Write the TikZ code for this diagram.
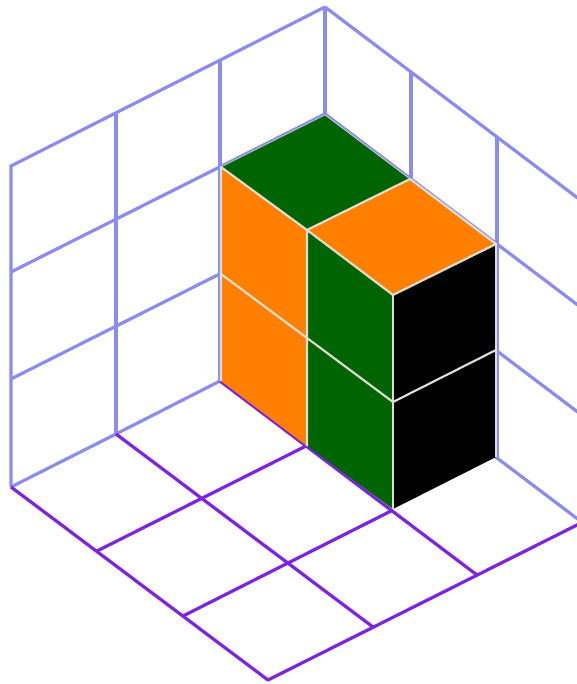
\documentclass[tikz,border=0pt]{standalone}
\definecolor{wallc}{RGB}{140,140,240}
\definecolor{floorc}{RGB}{125,35,225}
\definecolor{edgec}{RGB}{222,222,212}
\definecolor{dgreen}{RGB}{0,100,0}
\definecolor{orangec}{RGB}{255,128,0}
\tikzset{
  wall/.style={draw=wallc,line width=2.4pt},
  floorl/.style={draw=floorc,line width=2.4pt},
  face/.style={draw=edgec,line width=1.6pt,line join=round},
}
\begin{document}
\begin{tikzpicture}[x=0.75pt,y=-0.75pt]
\useasboundingbox (0,0) rectangle (577,684);
\clip (0,0) rectangle (577,684);
\fill[white] (0,0) rectangle (577,684);
% left wall
\draw[wall] (11,487) -- (11,166) -- (325,7);
\draw[wall] (116,434) -- (116,113);
\draw[wall] (220,381) -- (220,60);
\draw[wall] (325,328) -- (325,7);
\draw[wall] (11,272) -- (325,114);
\draw[wall] (11,379) -- (325,221);
% right wall
\draw[wall] (325,7) -- (583,202);
\draw[wall] (411,72) -- (411,393);
\draw[wall] (497,137) -- (497,458);
\draw[wall] (325,114) -- (583,309);
\draw[wall] (325,221) -- (583,416);
\draw[wall] (325,328) -- (583,523);
\draw[wall] (11,487) -- (116,434) -- (220,381);
% floor
\draw[floorl,line join=round] (11,487) -- (268,680) -- (583,522);
\draw[floorl] (97,551) -- (306,446);
\draw[floorl] (183,616) -- (393,510);
\draw[floorl] (116,434) -- (373,627);
\draw[floorl] (220,381) -- (477,575);
% blocks
\fill[orangec] (221,167) -- (307,230) -- (307,446) -- (221,381) -- cycle;
\fill[dgreen] (221,167) -- (325,115) -- (410,179) -- (307,230) -- cycle;
\fill[orangec] (307,230) -- (410,179) -- (496,244) -- (393,295) -- cycle;
\fill[dgreen] (307,230) -- (393,295) -- (393,509) -- (307,446) -- cycle;
\fill[black] (393,295) -- (496,244) -- (496,457) -- (393,509) -- cycle;
\draw[face] (221,381) -- (221,167) -- (307,230) -- (410,179) -- (496,244) -- (393,295) -- (307,230) -- (307,446);
\draw[face] (393,295) -- (393,509);
\draw[face] (496,457) -- (496,244);
\draw[face] (221,274) -- (393,402) -- (496,350);
\draw[face,line width=0.5pt] (221,167) -- (325,115) -- (410,179);
\end{tikzpicture}
\end{document}
